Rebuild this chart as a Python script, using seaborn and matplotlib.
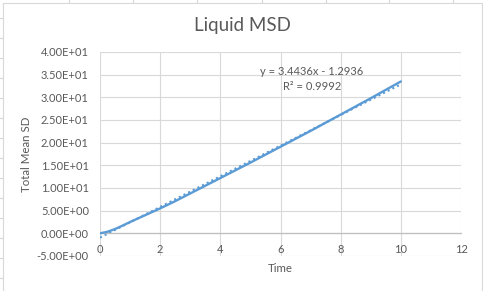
import numpy as np
import pandas as pd
import matplotlib
matplotlib.use("Agg")
import matplotlib.pyplot as plt
from matplotlib.lines import Line2D
import seaborn as sns

# ---- data ----
time = [0, 0.25, 0.5, 0.75, 1, 1.5, 2, 2.5, 3, 3.5, 4, 5, 6, 7, 8, 9, 10]
msd = [0, 0.35, 0.95, 1.7, 2.5, 4.0, 5.5, 7.1, 8.8, 10.5, 12.2, 15.6, 19.1, 22.6, 26.2, 29.8, 33.5]
eq_text = "y = 3.4436x - 1.2936"
r2_text = "R² = 0.9992"
title = "Liquid MSD"
xlabel = "Time"
ylabel = "Total Mean SD"
xticks = [0, 2, 4, 6, 8, 10, 12]
yticks = [-5, 0, 5, 10, 15, 20, 25, 30, 35, 40]

df = pd.DataFrame({"Time": time, "MSD": msd})

sns.set_theme(style="white")
plt.rcParams["font.family"] = ["Lato", "DejaVu Sans"]

W, H = 483, 291
fig = plt.figure(figsize=(W / 100, H / 100), dpi=100)
fig.patch.set_facecolor("white")

# spreadsheet cell lines outside the chart area
grid_c = "#D4D4D4"
def px_line(x0, y0, x1, y1, color=grid_c, lw=0.8):
    fig.add_artist(Line2D([x0 / W, x1 / W], [1 - y0 / H, 1 - y1 / H],
                          transform=fig.transFigure, color=color, lw=lw))
for xc in [69, 133, 197, 262, 326, 389, 453]:
    px_line(xc, 0, xc, 3)
for yr in range(18, 291, 20):
    px_line(0, yr, 3, yr)
# chart area border
px_line(3, 3, 482, 3, color="#D9D9D9")
px_line(3, 3, 3, 291, color="#D9D9D9")
px_line(482, 3, 482, 291, color="#D9D9D9")

left, right, top, bottom = 100, 461, 52, 256
ax = fig.add_axes([left / W, 1 - bottom / H, (right - left) / W, (bottom - top) / H])

blue = "#5B9BD5"
sns.lineplot(data=df, x="Time", y="MSD", ax=ax, color=blue, lw=1.7, zorder=3)
sns.regplot(data=df, x="Time", y="MSD", ax=ax, scatter=False, ci=None,
            line_kws=dict(color=blue, lw=1.5, ls=(0, (1, 1.5)), zorder=2))

ax.set_xlim(0, 12)
ax.set_ylim(-5, 40)
ax.set_xticks(xticks)
ax.set_yticks(yticks)
ax.set_xticklabels([str(v) for v in xticks])
ax.set_yticklabels(["%.2E" % v for v in yticks])
ax.grid(True, color="#D9D9D9", lw=0.8)
ax.set_axisbelow(True)
for s in ["top", "right", "left"]:
    ax.spines[s].set_visible(False)
ax.spines["bottom"].set_position(("data", 0))
ax.spines["bottom"].set_color("#BFBFBF")
ax.spines["bottom"].set_linewidth(0.9)

tc = "#595959"
ax.tick_params(axis="both", length=0, labelsize=8, labelcolor=tc)
ax.tick_params(axis="x", pad=7.5)
ax.tick_params(axis="y", pad=8)
ax.set_xlabel("")
ax.set_ylabel("")

fig.text((left + right) / 2 / W, 1 - 268 / H, xlabel, ha="center", va="center",
         fontsize=8.3, color=tc)
fig.text(27 / W, 1 - 154 / H, ylabel, ha="center", va="center", rotation=90,
         fontsize=8.3, color=tc)
fig.text(242 / W, 1 - 26 / H, title, ha="center", va="center", fontsize=13.5, color=tc)

ax.text(7.05, 35.8, eq_text, ha="center", va="center", fontsize=8, color=tc)
ax.text(7.05, 32.5, r2_text, ha="center", va="center", fontsize=8, color=tc)

fig.savefig("out.png", dpi=100)
